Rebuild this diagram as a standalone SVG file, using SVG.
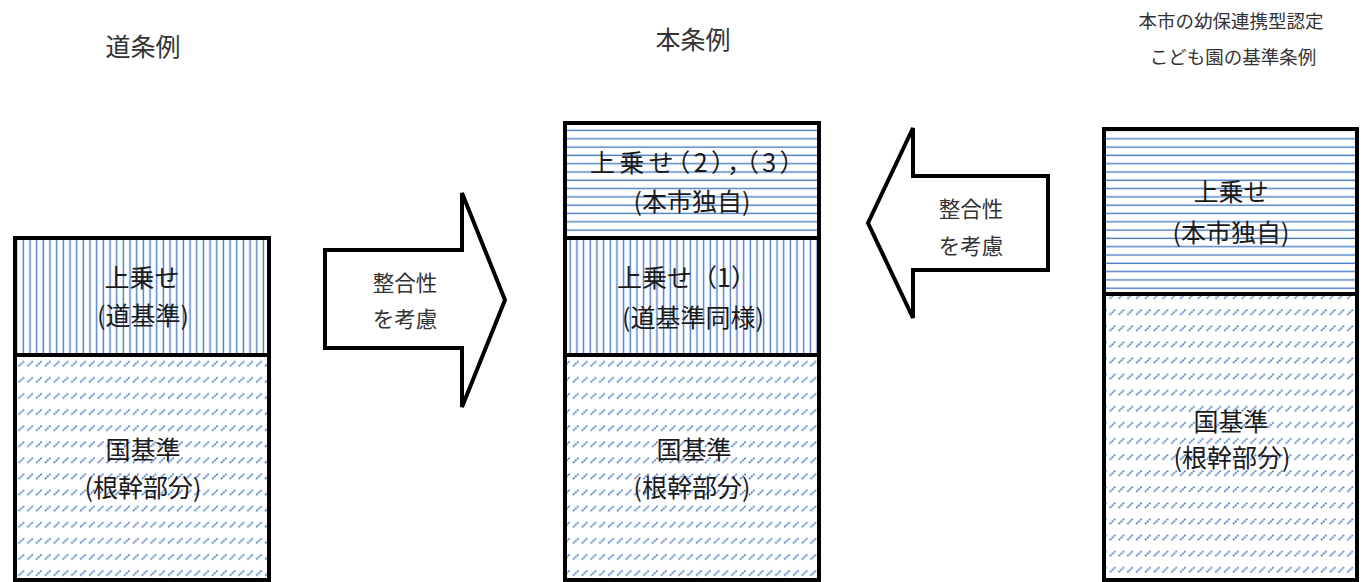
<svg xmlns="http://www.w3.org/2000/svg" width="1362" height="582" viewBox="0 0 1362 582">
<style>
text{font-family:"Noto Sans CJK JP","Noto Sans CJK SC",sans-serif;fill:#1a1a1a;text-anchor:middle}
.title{font-size:25px;fill:#333}
.title-s{font-size:18.5px;fill:#333}
.lbl{font-size:25px}
.atxt{font-size:21.5px;fill:#333}
.frame{fill:none;stroke:#000;stroke-width:4}
.div{stroke:#000;stroke-width:4}
.arrow{fill:#fff;stroke:#000;stroke-width:4;stroke-linejoin:miter}
.dash{stroke:#4677c2;stroke-width:1.6;stroke-dasharray:2 0.8}
</style>
<defs>
<pattern id="vstripe" patternUnits="userSpaceOnUse" x="0" y="0" width="6.67" height="10">
<line x1="3.3" y1="0" x2="3.3" y2="10" stroke="#4a7cc4" stroke-width="1.4"/>
</pattern>
<pattern id="hstripe" patternUnits="userSpaceOnUse" x="0" y="2" width="10" height="8.3">
<line x1="0" y1="4" x2="10" y2="4" stroke="#4a7cc4" stroke-width="1.4"/>
</pattern>
<pattern id="diag" patternUnits="userSpaceOnUse" x="0" y="424" width="8.8" height="16.1">
<line class="dash" x1="1" y1="6.8" x2="6.8" y2="1.2"/>
</pattern>
<pattern id="diag2" patternUnits="userSpaceOnUse" x="0" y="308" width="8.8" height="16.1">
<line class="dash" x1="1" y1="6.8" x2="6.8" y2="1.2"/>
</pattern>
</defs>
<rect width="1362" height="582" fill="#fff"/>

<g id="title-do">
<text class="title" x="143" y="56">道条例</text>
</g>
<g id="title-hon">
<text class="title" x="693" y="49">本条例</text>
</g>
<g id="title-kodomoen">
<text class="title-s" x="1231" y="28">本市の幼保連携型認定</text>
<text class="title-s" x="1233" y="64">こども園の基準条例</text>
</g>

<g id="box-do">
<rect x="15" y="238" width="254" height="117" fill="url(#vstripe)"/>
<rect x="15" y="355" width="254" height="225" fill="url(#diag)"/>
<rect class="frame" x="15" y="238" width="254" height="342"/>
<line class="div" x1="15" y1="355" x2="269" y2="355"/>
<text class="lbl" x="142" y="287">上乗せ</text>
<text class="lbl" x="143" y="325">(道基準)</text>
<text class="lbl" x="143" y="459">国基準</text>
<text class="lbl" x="143" y="497">(根幹部分)</text>
</g>

<g id="box-hon">
<rect x="565" y="123" width="254" height="115" fill="url(#hstripe)"/>
<rect x="565" y="238" width="254" height="117" fill="url(#vstripe)"/>
<rect x="565" y="355" width="254" height="225" fill="url(#diag)"/>
<rect class="frame" x="565" y="123" width="254" height="457"/>
<line class="div" x1="565" y1="238" x2="819" y2="238"/>
<line class="div" x1="565" y1="355" x2="819" y2="355"/>
<text class="lbl" x="590" y="172" style="text-anchor:start;font-feature-settings:'palt'" textLength="203" lengthAdjust="spacing">上乗せ（2），（3）</text>
<text class="lbl" x="692" y="211">(本市独自)</text>
<text class="lbl" x="617" y="287" style="text-anchor:start">上乗せ（1）</text>
<text class="lbl" x="693" y="327">(道基準同様)</text>
<text class="lbl" x="694" y="459">国基準</text>
<text class="lbl" x="692" y="497">(根幹部分)</text>
</g>

<g id="box-kodomoen">
<rect x="1104" y="129" width="253" height="165" fill="url(#hstripe)"/>
<rect x="1104" y="294" width="253" height="286" fill="url(#diag2)"/>
<rect class="frame" x="1104" y="129" width="253" height="451"/>
<line class="div" x1="1104" y1="294" x2="1357" y2="294"/>
<text class="lbl" x="1231" y="201">上乗せ</text>
<text class="lbl" x="1231" y="242">(本市独自)</text>
<text class="lbl" x="1231" y="431">国基準</text>
<text class="lbl" x="1232" y="467">(根幹部分)</text>
</g>

<g id="connectors">
<g id="arrow-right">
<polygon class="arrow" points="325,250 462,250 462,193 505,300 462,407 462,348 325,348"/>
<text class="atxt" x="405" y="291">整合性</text>
<text class="atxt" x="405" y="327">を考慮</text>
</g>
<g id="arrow-left">
<polygon class="arrow" points="1048,176 913,176 913,128 868,223 913,318 913,270 1048,270"/>
<text class="atxt" x="971" y="217">整合性</text>
<text class="atxt" x="971" y="254">を考慮</text>
</g>
</g>
</svg>
